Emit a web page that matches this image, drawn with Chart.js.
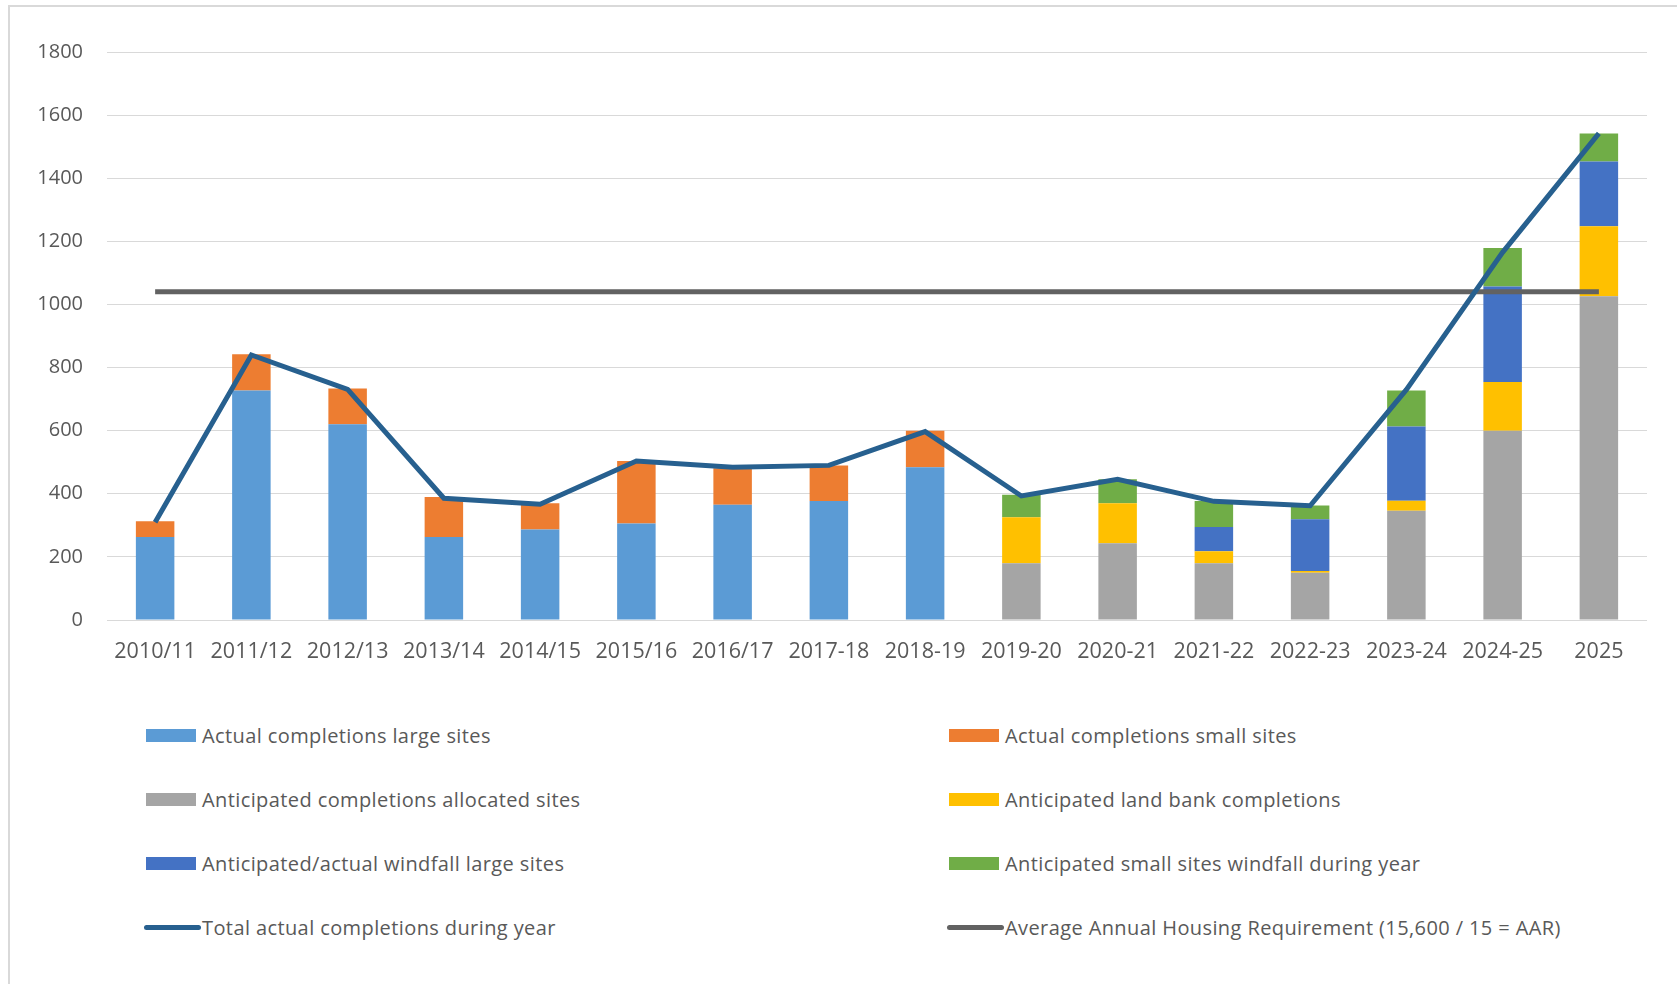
<!DOCTYPE html>
<html>
<head>
<meta charset="utf-8">
<script src="https://cdn.jsdelivr.net/npm/chart.js@4.4.1/dist/chart.umd.min.js"></script>
<style>
  html, body { margin: 0; padding: 0; background: #fff; overflow: hidden; }
  #frame { position: absolute; left: 8px; top: 5px; width: 1700px; height: 1000px;
           border-left: 2px solid #d9d9d9; border-top: 2px solid #d9d9d9; }
  #myChart { position: absolute; left: 0; top: 0; }
  #legend { position: absolute; left: 144px; top: 703px; display: grid;
            grid-template-columns: 803px auto; grid-auto-rows: 64px;
            font-family: "Open Sans", sans-serif; font-size: 20px; color: #595959;
            letter-spacing: 0.4px; }
  .item { display: flex; align-items: center; white-space: nowrap; }
  .key { position: relative; width: 58px; height: 14px; flex: none; }
  .key span { position: absolute; display: block; }
</style>
</head>
<body>
<div id="frame"></div>
<canvas id="myChart" width="1677" height="680"></canvas>
<div id="legend"></div>
<script>
const years = ['2010/11', '2011/12', '2012/13', '2013/14', '2014/15', '2015/16', '2016/17', '2017-18',
  '2018-19', '2019-20', '2020-21', '2021-22', '2022-23', '2023-24', '2024-25', '2025'];

const largeSites = [263, 727, 620, 263, 287, 306, 365, 377, 484, null, null, null, null, null, null, null];
const smallSites = [50, 115, 114, 127, 83, 198, 116, 113, 116, null, null, null, null, null, null, null];
const allocatedSites = [null, null, null, null, null, null, null, null, null, 180, 243, 180, 150, 346, 600, 1026];
const landBank = [null, null, null, null, null, null, null, null, null, 146, 127, 38, 5, 32, 154, 222];
const windfallLarge = [null, null, null, null, null, null, null, null, null, null, null, 77, 164, 235, 303, 205];
const windfallSmall = [null, null, null, null, null, null, null, null, null, 71, 76, 82, 44, 114, 122, 89];
const totalCompletions = [310, 840, 731, 386, 367, 504, 484, 490, 597, 393, 446, 376, 362, 730, 1165, 1542];
const aarValue = 1040;
const aarLine = years.map(() => aarValue);

const yTicks = [0, 200, 400, 600, 800, 1000, 1200, 1400, 1600, 1800];

const textColor = '#595959';

const barSet = (label, data, color) => ({
  type: 'bar',
  label,
  data,
  backgroundColor: color,
  borderWidth: 0,
  stack: 'bars',
  order: 2,
  barPercentage: 0.4,
  categoryPercentage: 1,
});

const datasets = [
  barSet('Actual completions large sites', largeSites, '#5b9bd5'),
  barSet('Actual completions small sites', smallSites, '#ed7d31'),
  barSet('Anticipated completions allocated sites', allocatedSites, '#a5a5a5'),
  barSet('Anticipated land bank completions', landBank, '#ffc000'),
  barSet('Anticipated/actual windfall large sites', windfallLarge, '#4472c4'),
  barSet('Anticipated small sites windfall during year', windfallSmall, '#70ad47'),
  {
    type: 'line',
    label: 'Total actual completions during year',
    data: totalCompletions,
    borderColor: '#27608f',
    backgroundColor: '#27608f',
    borderWidth: 5,
    pointRadius: 0,
    tension: 0,
    stack: 'total',
    order: 0,
  },
  {
    type: 'line',
    label: 'Average Annual Housing Requirement (15,600 / 15 = AAR)',
    data: aarLine,
    borderColor: '#626262',
    backgroundColor: '#626262',
    borderWidth: 5,
    pointRadius: 0,
    stack: 'aar',
    order: 1,
  },
];

const canvas = document.getElementById('myChart');
const myChart = new Chart(canvas, {
  data: { labels: years, datasets },
  options: {
    responsive: false,
    animation: false,
    layout: { padding: { left: 0, top: 52, right: 30, bottom: 0 } },
    plugins: { legend: { display: false }, tooltip: { enabled: false } },
    scales: {
      x: {
        stacked: true,
        grid: { display: false },
        border: { display: false },
        ticks: { color: textColor, font: { family: 'Open Sans', size: 21.5 }, padding: 11,
          maxRotation: 0, autoSkip: false },
        afterFit: (scale) => { scale.height = 60; },
      },
      y: {
        stacked: true,
        min: 0,
        max: 1800,
        afterBuildTicks: (scale) => { scale.ticks = yTicks.map((v) => ({ value: v })); },
        grid: { color: '#d9d9d9', lineWidth: 1, drawTicks: false },
        border: { display: false },
        ticks: { color: textColor, font: { family: 'Open Sans', size: 20 }, padding: 24,
          callback: (v) => String(v) },
        afterFit: (scale) => { scale.width = 107; },
      },
    },
  },
});

// legend laid out in two columns like the original
const legendOrder = [0, 1, 2, 3, 4, 5, 6, 7];
const legendBox = document.getElementById('legend');
legendOrder.forEach((i) => {
  const ds = myChart.data.datasets[i];
  const item = document.createElement('div');
  item.className = 'item';
  const key = document.createElement('div');
  key.className = 'key';
  const sw = document.createElement('span');
  if (ds.type === 'line') {
    Object.assign(sw.style, { left: '0px', top: '5px', width: '57px', height: '5px',
      borderRadius: '3px', background: ds.borderColor });
  } else {
    Object.assign(sw.style, { left: '2px', top: '1px', width: '50px', height: '13px',
      background: ds.backgroundColor });
  }
  key.appendChild(sw);
  const txt = document.createElement('span');
  txt.textContent = ds.label;
  item.appendChild(key);
  item.appendChild(txt);
  legendBox.appendChild(item);
});
</script>
</body>
</html>
